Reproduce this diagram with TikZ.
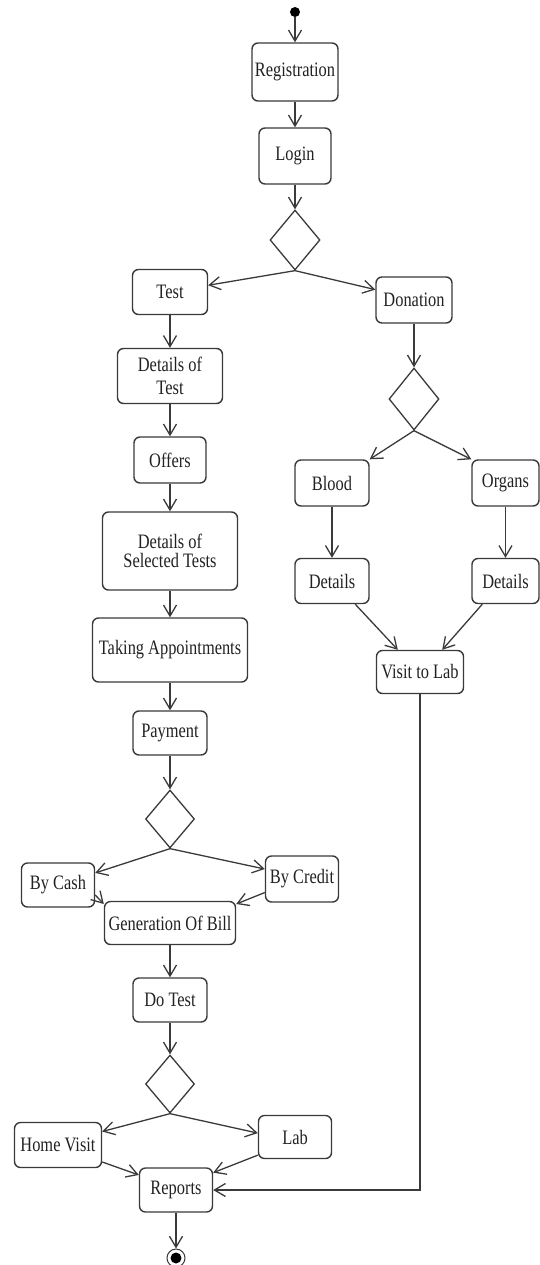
\documentclass[tikz,border=0pt]{standalone}
\usepackage{fontspec}
\setmainfont{Liberation Serif}[FakeStretch=0.8]
\usetikzlibrary{shapes.geometric,arrows.meta,calc}
\definecolor{ln}{HTML}{3A3A3A}
\definecolor{tx}{HTML}{222222}
\begin{document}
\begin{tikzpicture}[x=1pt,y=-1pt,
  box/.style={draw=ln, line width=1.4pt, rounded corners=6pt, inner sep=0pt, align=center,
              text=tx, font=\fontsize{20.5}{22}\selectfont, fill=white},
  dia/.style={draw=ln, line width=1.3pt, diamond, inner sep=0pt, minimum width=50pt, minimum height=60pt},
  flow/.style={draw=ln, line width=1.3pt, -{Straight Barb[length=11pt,width=13pt]}},
]
\useasboundingbox (0,0) rectangle (540,1265);

% start
\node[circle, fill=black, inner sep=0pt, minimum size=10pt] (start) at (295,12) {};

% main column
\node[box, minimum width=86pt, minimum height=58pt] (reg) at (295,72) {Registration};
\node[box, minimum width=72pt, minimum height=56pt] (login) at (295,156) {Login};
\node[dia] (d1) at (295,240) {};

% left column
\node[box, minimum width=75pt, minimum height=45pt] (test) at (170,292) {Test};
\node[box, minimum width=105pt, minimum height=55pt, font=\fontsize{20.5}{23}\selectfont] (dt) at (170,376) {Details of\\Test};
\node[box, minimum width=72pt, minimum height=46pt] (offers) at (170,460) {Offers};
\node[box, minimum width=135pt, minimum height=78pt, font=\fontsize{20.5}{19}\selectfont] (dst) at (170,551) {Details of\\Selected Tests};
\node[box, minimum width=155pt, minimum height=64pt] (take) at (170,650) {Taking Appointments};
\node[box, minimum width=74pt, minimum height=44pt] (pay) at (170,733) {Payment};
\node[dia, minimum width=49pt, minimum height=58pt] (d2) at (170,819) {};
\node[box, minimum width=73pt, minimum height=44pt] (cash) at (58,885) {By Cash};
\node[box, minimum width=73pt, minimum height=46pt] (credit) at (302,879) {By Credit};
\node[box, minimum width=131pt, minimum height=43pt] (bill) at (170,923) {Generation Of Bill};
\node[box, minimum width=74pt, minimum height=44pt] (dotest) at (170,1000) {Do Test};
\node[dia, minimum width=49pt, minimum height=58pt] (d3) at (170,1084) {};
\node[box, minimum width=87pt, minimum height=45pt] (home) at (58,1145) {Home Visit};
\node[box, minimum width=73pt, minimum height=43pt] (lab) at (295,1137) {Lab};
\node[box, minimum width=73pt, minimum height=44pt] (reports) at (176,1190) {Reports};

% end
\node[circle, draw=ln, line width=1pt, inner sep=0pt, minimum size=18pt] (end) at (176,1258) {};
\node[circle, fill=black, inner sep=0pt, minimum size=11pt] (endin) at (176,1258) {};

% right column
\node[box, minimum width=76pt, minimum height=46pt] (don) at (414,300) {Donation};
\node[dia, minimum width=50pt, minimum height=62pt] (d4) at (414,399) {};
\node[box, minimum width=74pt, minimum height=46pt] (blood) at (332,483) {Blood};
\node[box, minimum width=67pt, minimum height=46pt] (organs) at (505.5,483) {Organs};
\node[box, minimum width=74pt, minimum height=45pt] (det1) at (332,581) {Details};
\node[box, minimum width=67pt, minimum height=45pt] (det2) at (505.5,581) {Details};
\node[box, minimum width=87pt, minimum height=43pt] (visit) at (420,672) {Visit to Lab};

% connectors
\draw[flow] (start) -- (reg);
\draw[flow] (reg) -- (login);
\draw[flow] (login) -- (d1);
\draw[flow] (d1.south) -- (test.10);
\draw[flow] (d1.south) -- (don.165);
\draw[flow] (test) -- (dt);
\draw[flow] (dt) -- (offers);
\draw[flow] (offers) -- (dst);
\draw[flow] (dst) -- (take);
\draw[flow] (take) -- (pay);
\draw[flow] (pay) -- (d2);
\draw[flow] (d2.south) -- (cash.18);
\draw[flow] (d2.south) -- (credit.165);
\draw[flow] (cash.-15) -- (bill.164);
\draw[flow] (credit.200) -- (bill.16);
\draw[flow] (bill) -- (dotest);
\draw[flow] (dotest) -- (d3);
\draw[flow] (d3.south) -- (home.17);
\draw[flow] (d3.south) -- (lab.174);
\draw[flow] (home.-21) -- (reports.158);
\draw[flow] (lab.206) -- (reports.25);
\draw[flow] (reports) -- (end);
\draw[flow] (don) -- (d4);
\draw[flow] (d4.south) -- (blood.north east);
\draw[flow] (d4.south) -- (organs.north west);
\draw[flow] (blood) -- (det1);
\draw[flow] (organs) -- (det2);
\draw[flow] (det1.-45) -- (visit.135);
\draw[flow] (det2.-135) -- (visit.45);
\draw[flow] (visit.south) |- (reports.east);
\end{tikzpicture}
\end{document}
